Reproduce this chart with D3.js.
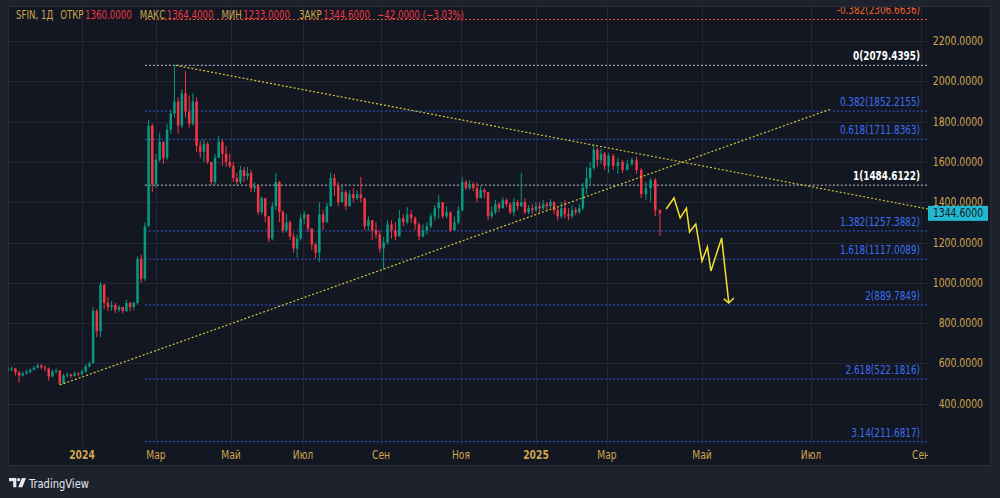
<!DOCTYPE html>
<meta charset="utf-8">
<style>
  body { margin: 0; background: #1e222d; }
  svg text { font-family: "Liberation Sans Narrow", "DejaVu Sans Condensed", "Arial Narrow", sans-serif; }
  .grid line { stroke: #232734; stroke-width: 1; shape-rendering: crispEdges; }
  .axis text { fill: #cfa64c; font-size: 12px; }
</style>
<body>
<svg id="chart" width="1000" height="498"></svg>
<script src="https://d3js.org/d3.v7.min.js"></script>
<script>
// ---- data (one candle per ~3 calendar days) ----
var firstOpen = 565;
var closes = [570,575,555,540,550,558,568,578,590,580, 575,535,560,565,500,540,545,538,550,548,
  560,585,600,860,760,990,900,880,890,865, 880,860,900,880,900,1120,1020,1280,1780,1490,
  1610,1700,1620,1760,1840,1900,1780,1940,1850,1790, 1900,1680,1650,1690,1600,1500,1620,1700,1640,1600,
  1580,1520,1500,1560,1530,1545,1470,1480,1350,1420, 1330,1220,1380,1500,1350,1260,1300,1230,1170,1220,
  1320,1340,1270,1190,1150,1340,1300,1380,1520,1480, 1400,1450,1380,1440,1420,1440,1420,1280,1310,1260,
  1240,1170,1200,1290,1260,1230,1320,1300,1340,1320, 1290,1230,1260,1280,1330,1370,1400,1330,1350,1260,
  1300,1360,1500,1470,1490,1470,1420,1460,1450,1330, 1350,1390,1370,1410,1390,1350,1400,1380,1400,1350,
  1370,1360,1380,1370,1390,1380,1400,1360,1330,1370, 1340,1330,1360,1350,1370,1470,1520,1570,1660,1610,
  1640,1580,1630,1580,1600,1560,1590,1610,1560,1440, 1470,1510,1360,1344.6];
var highs = [580,585,578,565,560,568,578,588,600,595, 590,580,570,575,565,548,555,550,560,558,
  570,595,610,880,870,1005,995,930,910,900, 890,880,915,905,905,1130,1140,1300,1810,1790,
  1640,1745,1700,1790,1860,2079,1920,1960,2050,1930, 1940,1920,1705,1710,1700,1600,1640,1730,1710,1680,
  1640,1600,1545,1580,1575,1575,1560,1500,1490,1430, 1420,1330,1400,1545,1505,1360,1340,1310,1247,1240,
  1340,1355,1340,1270,1200,1400,1360,1396,1545,1540, 1500,1480,1460,1460,1470,1460,1525,1420,1330,1312,
  1300,1260,1227,1310,1310,1300,1361,1340,1376,1360, 1330,1300,1290,1300,1346,1386,1436,1400,1380,1355,
  1330,1380,1525,1510,1510,1500,1495,1480,1470,1450, 1380,1411,1400,1426,1420,1400,1420,1410,1545,1420,
  1386,1390,1400,1400,1410,1400,1415,1405,1380,1400, 1410,1370,1386,1375,1390,1495,1575,1600,1684,1670,
  1665,1650,1644,1640,1620,1610,1609,1620,1625,1570, 1500,1520,1520,1364.4];
var lows = [560,562,540,505,535,545,550,565,575,570, 560,515,530,550,493,498,530,528,535,535,
  540,555,580,600,730,730,870,860,860,850, 855,850,855,860,865,890,1000,1010,1280,1450,
  1470,1600,1590,1610,1740,1820,1740,1770,1820,1770, 1780,1650,1620,1600,1590,1485,1485,1620,1580,1575,
  1570,1500,1485,1490,1500,1510,1450,1450,1336,1336, 1300,1203,1210,1360,1300,1247,1250,1212,1150,1123,
  1210,1290,1250,1163,1120,1103,1262,1300,1380,1430, 1380,1400,1361,1380,1400,1410,1400,1262,1260,1212,
  1220,1150,1064,1190,1220,1212,1230,1280,1290,1297, 1262,1212,1225,1240,1270,1310,1320,1320,1320,1252,
  1270,1290,1355,1460,1460,1455,1401,1430,1420,1311, 1320,1340,1350,1370,1376,1340,1330,1360,1376,1340,
  1340,1340,1350,1350,1360,1360,1370,1340,1310,1320, 1320,1311,1320,1335,1340,1360,1440,1485,1560,1575,
  1590,1560,1545,1560,1540,1545,1560,1580,1540,1420, 1411,1400,1330,1233];
var firstDate = new Date(2023, 10, 2);   // candles every 3 days from here

var priceTicks = [400, 600, 800, 1000, 1200, 1400, 1600, 1800, 2000, 2200];
var timeTicks = [new Date(2024,0,1), new Date(2024,2,1), new Date(2024,4,1), new Date(2024,6,1),
  new Date(2024,8,1), new Date(2024,10,1), new Date(2025,0,1), new Date(2025,2,1),
  new Date(2025,4,1), new Date(2025,6,1), new Date(2025,8,1)];
var timeLabels = ["2024","Мар","Май","Июл","Сен","Ноя","2025","Мар","Май","Июл","Сен"];

var fibRatios = ["-0.382","0","0.382","0.618","1","1.382","1.618","2","2.618","3.14"];
var fibPrices = [2306.6636, 2079.4395, 1852.2155, 1711.8363, 1484.6122, 1257.3882, 1117.0089, 889.7849, 522.1816, 211.6817];
var fibColors = ["#e4572e","#c3c6ce","#2f5bd8","#2f5bd8","#c3c6ce","#2f5bd8","#2f5bd8","#2f5bd8","#2f5bd8","#2f5bd8"];
var fibStart = new Date(2024, 1, 21);

var trendDown = [[new Date(2024,2,17), 2079.44], [new Date(2025,8,5), 1366]];
var trendUp = [[new Date(2023,11,14), 493], [new Date(2025,6,12), 1862]];
var projDates = [new Date(2025,3,8), new Date(2025,3,13), new Date(2025,3,17), new Date(2025,3,21),
  new Date(2025,3,23), new Date(2025,3,27), new Date(2025,4,1), new Date(2025,4,4),
  new Date(2025,4,6), new Date(2025,4,12), new Date(2025,4,16)];
var projPrices = [1366, 1421, 1322, 1371, 1252, 1292, 1108, 1178, 1059, 1222, 900];

var headerParts = ["SFIN, 1Д", "ОТКР", "1360.0000", "МАКС", "1364.4000", "МИН", "1233.0000",
  "ЗАКР", "1344.6000", "−42.0000 (−3.03%)"];
var headerKinds = ["g", "g", "r", "g", "r", "g", "r", "g", "r", "r"];
var lastPrice = 1344.6;

// ---- layout ----
var plot = {left: 8, right: 928, top: 7, bottom: 446};
var gold = "#cfa64c", up = "#089981", down = "#f23645";
var headerGap = [7, 1.5, 8, 1.5, 8, 1.5, 9, 1.5, 7];   // space after each header part, screen px

// the chart font is narrower than anything installed: squeeze text horizontally
function condense(sel, k) {
  sel.each(function() {
    var w = this.getComputedTextLength();
    d3.select(this).attr("textLength", w * k).attr("lengthAdjust", "spacingAndGlyphs");
  });
}

var svg = d3.select("#chart");

var x = d3.scaleTime()
  .domain([firstDate].concat(timeTicks).concat([new Date(2025,9,1)]))
  .range([8, 82, 156, 231, 303, 381, 461, 536, 607, 702, 811, 921, 975]);
var y = d3.scaleLinear().domain([400, 2200]).range([403.7, 41]);

var candles = closes.map(function(c, i) {
  return {date: d3.timeDay.offset(firstDate, 3 * i),
          o: i === 0 ? firstOpen : closes[i - 1], h: highs[i], l: lows[i], c: c};
});

// panel
svg.append("rect").attr("width", 1000).attr("height", 498).attr("fill", "#1e222d");
svg.append("rect").attr("x", 8.5).attr("y", 6.5).attr("width", 982).attr("height", 459)
  .attr("fill", "#131722").attr("stroke", "#2a2e39");

var defs = svg.append("defs");
defs.append("clipPath").attr("id", "clip")
  .append("rect").attr("x", plot.left).attr("y", plot.top)
  .attr("width", plot.right - plot.left).attr("height", plot.bottom - plot.top);
defs.append("clipPath").attr("id", "clipTime")
  .append("rect").attr("x", plot.left).attr("y", plot.bottom)
  .attr("width", plot.right - plot.left).attr("height", 20);

// grid
var grid = svg.append("g").attr("class", "grid");
grid.selectAll(".h").data(priceTicks).enter().append("line")
  .attr("x1", plot.left).attr("x2", plot.right)
  .attr("y1", function(d) { return Math.round(y(d)) + 0.5; })
  .attr("y2", function(d) { return Math.round(y(d)) + 0.5; });
grid.selectAll(".v").data(timeTicks).enter().append("line")
  .attr("y1", plot.top).attr("y2", plot.bottom)
  .attr("x1", function(d) { return Math.round(x(d)) + 0.5; })
  .attr("x2", function(d) { return Math.round(x(d)) + 0.5; });

var g = svg.append("g").attr("clip-path", "url(#clip)");

// fibonacci levels
g.selectAll(".fib").data(fibPrices).enter().append("line")
  .attr("x1", x(fibStart)).attr("x2", plot.right)
  .attr("y1", function(d) { return y(d); }).attr("y2", function(d) { return y(d); })
  .attr("stroke", function(d, i) { return fibColors[i]; })
  .attr("stroke-width", 1).attr("stroke-dasharray", "2,2");
var fibText = g.selectAll(".fibtxt").data(fibPrices).enter().append("text")
  .attr("x", 920).attr("y", function(d, i) { return y(d) - (i === 0 ? 6 : 5); })
  .attr("text-anchor", "end").attr("font-size", "12px")
  .attr("font-weight", function(d, i) { return fibColors[i] === "#c3c6ce" ? "bold" : "normal"; })
  .attr("fill", function(d, i) {
    return i === 0 ? "#f0622a" : (fibColors[i] === "#c3c6ce" ? "#ffffff" : "#3b6ff0");
  })
  .text(function(d, i) { return fibRatios[i] + "(" + d.toFixed(4) + ")"; });
condense(fibText, 0.82);

// candles
var bw = 2.5;
var cg = g.selectAll(".candle").data(candles).enter().append("g");
cg.append("line")
  .attr("x1", function(d) { return x(d.date); }).attr("x2", function(d) { return x(d.date); })
  .attr("y1", function(d) { return y(d.h); }).attr("y2", function(d) { return y(d.l); })
  .attr("stroke", function(d) { return d.c >= d.o ? up : down; }).attr("stroke-width", 1);
cg.append("rect")
  .attr("x", function(d) { return x(d.date) - bw / 2; }).attr("width", bw)
  .attr("y", function(d) { return y(Math.max(d.o, d.c)); })
  .attr("height", function(d) { return Math.max(1, Math.abs(y(d.o) - y(d.c))); })
  .attr("fill", function(d) { return d.c >= d.o ? up : down; });

// trend lines
[trendDown, trendUp].forEach(function(t) {
  g.append("line")
    .attr("x1", x(t[0][0])).attr("y1", y(t[0][1]))
    .attr("x2", x(t[1][0])).attr("y2", y(t[1][1]))
    .attr("stroke", "#d6c53a").attr("stroke-width", 1.2).attr("stroke-dasharray", "2,2");
});

// projected path
var proj = projDates.map(function(d, i) { return [x(d), y(projPrices[i])]; });
g.append("path").attr("d", d3.line()(proj))
  .attr("fill", "none").attr("stroke", "#f2e02c").attr("stroke-width", 1.5);
var tip = proj[proj.length - 1];
g.append("path").attr("d", d3.line()([[tip[0] - 5, tip[1] - 4], tip, [tip[0] + 5, tip[1] - 5]]))
  .attr("fill", "none").attr("stroke", "#f2e02c").attr("stroke-width", 1.5);

// price axis
var ax = svg.append("g").attr("class", "axis");
var pt = ax.selectAll(".pt").data(priceTicks).enter().append("text")
  .attr("x", 983).attr("y", function(d) { return y(d) + 4; })
  .attr("text-anchor", "end").text(function(d) { return d.toFixed(4); });
condense(pt, 0.86);

// last price label
svg.append("rect").attr("x", 928).attr("y", y(lastPrice) - 7.5).attr("width", 60).attr("height", 15)
  .attr("fill", "#22b8d0");
var lp = svg.append("text").attr("x", 958).attr("y", y(lastPrice) + 4).attr("text-anchor", "middle")
  .attr("font-size", "12px").attr("fill", "#131722").text(lastPrice.toFixed(4));
condense(lp, 0.86);

// time axis
var tt = ax.append("g").attr("clip-path", "url(#clipTime)")
  .selectAll(".tt").data(timeTicks).enter().append("text")
  .attr("x", function(d) { return x(d); }).attr("y", 459)
  .attr("text-anchor", "middle")
  .attr("font-weight", function(d, i) { return /^\d/.test(timeLabels[i]) ? "bold" : "normal"; })
  .text(function(d, i) { return timeLabels[i]; });
condense(tt, 0.85);

// header: a horizontally squeezed group, parts laid out one after another
var hk = 0.8;
var hg = svg.append("g").attr("transform", "translate(16,19) scale(" + hk + ",1)");
var hx = 0;
headerParts.forEach(function(p, i) {
  var t = hg.append("text").attr("x", hx).attr("y", 0).attr("font-size", "12px")
    .attr("fill", headerKinds[i] === "g" ? gold : down).text(p);
  hx += t.node().getComputedTextLength() + (headerGap[i] || 0) / hk;
});

// logo
var logo = svg.append("g").attr("transform", "translate(9,478) scale(0.92)").attr("fill", "#e6e8ee");
logo.append("path").attr("d", "M0 0H8V10H4.5V3.5H0Z");
logo.append("circle").attr("cx", 10.5).attr("cy", 1.8).attr("r", 1.8);
logo.append("path").attr("d", "M14 0H18.5L14.5 10H10Z");
var lt = svg.append("text").attr("x", 29).attr("y", 488).attr("font-size", "13px").attr("fill", "#e6e8ee").text("TradingView");
condense(lt, 0.85);
</script>
</body>
